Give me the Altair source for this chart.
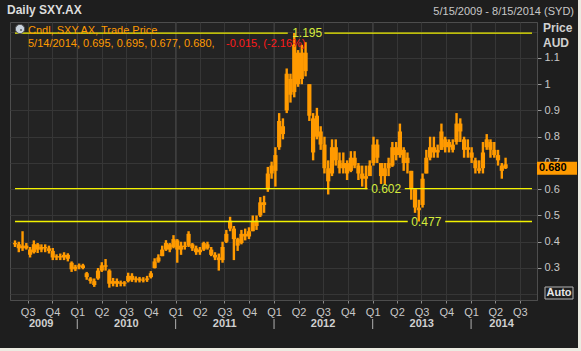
import altair as alt
import pandas as pd

# ---------------- data (bi-weekly candles) ----------------
candle_dates = pd.date_range("2009-05-15", periods=131, freq="14D").strftime("%Y-%m-%d").tolist()

open_ = [
    .395, .39, .375, .385, .37, .36, .39, .37, .38, .375,
    .365, .34, .345, .34, .35, .32, .295, .305, .31, .28,
    .26, .25, .26, .29, .31, .29, .24, .25, .24, .245,
    .25, .27, .255, .26, .252, .255, .265, .3, .325, .345,
    .37, .39, .38, .405, .37, .385, .385, .39, .375, .36,
    .37, .39, .37, .35, .34, .33, .4, .45, .45, .41,
    .395, .43, .42, .44, .48, .5, .55, .6, .66, .67,
    .76, .84, .9, 1.02, .97, 1.12, 1.02, 1.12, 1.0, .87,
    .8, .82, .77, .68, .66, .76, .71, .68, .7, .67,
    .72, .69, .66, .64, .65, .7, .77, .7, .65, .68,
    .69, .76, .73, .75, .7, .67, .6, .53, .54, .66,
    .72, .76, .74, .75, .79, .76, .77, .78, .85, .79,
    .75, .74, .71, .68, .68, .76, .78, .75, .73, .69,
    .695]
close_ = [
    .39, .375, .385, .375, .35, .39, .37, .38, .375, .365,
    .34, .345, .34, .35, .335, .295, .305, .31, .3, .265,
    .25, .235, .29, .31, .305, .24, .25, .24, .245, .24,
    .27, .255, .26, .252, .255, .26, .28, .325, .34, .37,
    .395, .37, .41, .37, .385, .38, .43, .375, .36, .37,
    .395, .375, .35, .34, .33, .38, .43, .48, .41, .385,
    .43, .42, .44, .48, .46, .55, .54, .66, .69, .73,
    .86, .81, 1.04, .96, 1.15, 1.0, 1.12, 1.05, .88, .74,
    .88, .77, .68, .63, .76, .71, .68, .7, .66, .72,
    .69, .66, .64, .65, .69, .77, .72, .65, .68, .7,
    .76, .73, .82, .7, .72, .6, .53, .52, .64, .72,
    .76, .74, .75, .82, .76, .78, .75, .85, .82, .75,
    .76, .72, .68, .67, .74, .79, .75, .73, .71, .67,
    .68]
high_ = [
    .405, .40, .44, .395, .38, .405, .395, .39, .39, .385,
    .376, .352, .355, .36, .356, .325, .312, .317, .316, .285,
    .265, .26, .3, .322, .334, .295, .262, .26, .252, .25,
    .282, .28, .268, .266, .265, .27, .288, .337, .352, .385,
    .406, .395, .425, .41, .4, .4, .44, .395, .385, .38,
    .4, .4, .38, .36, .355, .4, .445, .495, .46, .415,
    .445, .45, .455, .5, .5, .57, .575, .685, .705, .76,
    .89, .87, 1.06, 1.04, 1.195, 1.13, 1.15, 1.16, 1.0, .89,
    .91, .84, .8, .71, .79, .79, .74, .74, .71, .745,
    .745, .7, .69, .69, .71, .8, .79, .7, .7, .72,
    .78, .78, .85, .76, .74, .67, .6, .56, .66, .75,
    .8, .8, .77, .85, .8, .79, .79, .89, .87, .8,
    .79, .76, .72, .71, .78, .81, .79, .78, .75, .7,
    .72]
low_ = [
    .38, .36, .365, .37, .34, .355, .357, .36, .36, .355,
    .33, .33, .33, .33, .325, .285, .288, .295, .295, .255,
    .24, .228, .255, .285, .29, .225, .23, .228, .23, .23,
    .245, .247, .245, .245, .245, .247, .26, .298, .32, .345,
    .365, .36, .375, .32, .35, .37, .38, .365, .35, .35,
    .365, .37, .345, .33, .29, .32, .395, .44, .33, .365,
    .39, .405, .41, .44, .445, .494, .51, .59, .64, .61,
    .75, .79, .89, .93, .95, .99, 1.0, 1.03, .86, .71,
    .79, .75, .66, .58, .65, .69, .66, .66, .635, .665,
    .68, .635, .61, .6, .655, .69, .7, .62, .62, .65,
    .685, .71, .72, .67, .66, .56, .51, .477, .53, .66,
    .71, .72, .72, .75, .74, .74, .74, .77, .78, .72,
    .72, .7, .66, .66, .66, .75, .72, .72, .69, .64,
    .677]

quarter_ticks = [(2009, 7), (2009, 10)] + [(y, m) for y in (2010, 2011, 2012, 2013) for m in (1, 4, 7, 10)] + [(2014, 1), (2014, 4), (2014, 7)]
year_starts = ["2010-01-01", "2011-01-01", "2012-01-01", "2013-01-01", "2014-01-01"]
year_labels = ["2009", "2010", "2011", "2012", "2013", "2014"]
year_label_dates = ["2009-08-20", "2010-07-02", "2011-07-02", "2012-07-01", "2013-07-02", "2014-04-24"]

levels = [1.195, 0.602, 0.477]
level_texts = ["1.195", "0.602", "0.477"]
level_label_dates = ["2012-05-03", "2013-02-20", "2013-07-19"]
gap_starts = ["2012-02-21", "2012-12-13", "2013-05-11"]
gap_ends = ["2012-07-06", "2013-04-30", "2013-09-27"]
domain_start, domain_end = "2009-05-15", "2014-08-15"

y_grid = [0.2, 0.3, 0.4, 0.5, 0.6, 0.7, 0.8, 0.9, 1.0, 1.1, 1.2]
last_close = 0.680

# ---------------- styling ----------------
ORANGE = "#ff9a00"
YELLOW = "#f2f200"
LABEL_YELLOW = "#d6ec3c"
FONT = "Liberation Sans"
TXT = "#c8c8c8"
GRID = "#363636"

df = pd.DataFrame({"date": candle_dates, "open": open_, "high": high_, "low": low_, "close": close_})

xscale = alt.Scale(type="utc",
                   domain=[alt.DateTime(year=2009, month=5, date=15, utc=True),
                           alt.DateTime(year=2014, month=8, date=15, utc=True)])
yscale = alt.Scale(domain=[0.178, 1.237], zero=False, nice=False)

xaxis = alt.Axis(values=[alt.DateTime(year=y, month=m, date=1, utc=True) for y, m in quarter_ticks],
                 labelExpr="'Q' + utcquarter(datum.value)", grid=True, gridColor=GRID,
                 tickSize=3, tickColor="#8a8a8a", domainColor="#4d4d4d", labelColor=TXT,
                 labelFont=FONT, labelFontSize=11, labelPadding=3, labelOverlap=False,
                 labelFlush=False, title=None)
yaxis = alt.Axis(orient="right", values=y_grid,
                 labelExpr="datum.value < 0.25 || datum.value > 1.15 ? '' : format(datum.value, '~g')",
                 tickOpacity={"condition": {"test": "datum.value < 0.25 || datum.value > 1.15", "value": 0}, "value": 1},
                 grid=True, gridColor=GRID, domainColor="#4d4d4d", tickColor="#9a9a9a",
                 tickSize=4, labelPadding=3, labelColor=TXT, labelFont=FONT, labelFontSize=11,
                 labelOverlap=False, title=None)


def X(field):
    return alt.X(field, scale=xscale, axis=xaxis)


def Y(field):
    return alt.Y(field, scale=yscale, axis=yaxis)


one = pd.DataFrame({"k": [0]})


def text_at(t, x, y, color=TXT, size=11, bold=False, align="left"):
    return alt.Chart(one).mark_text(text=t, color=color, font=FONT, fontSize=size,
                                    fontWeight="bold" if bold else "normal",
                                    align=align, baseline="middle").encode(
        x=alt.value(x), y=alt.value(y))


# year separators (slightly brighter vertical lines) and the candles
year_df = pd.DataFrame({"d": year_starts})
year_grid = alt.Chart(year_df).mark_rule(color="#434343", strokeWidth=1).encode(
    x=X("d:T"), y=alt.value(0), y2=alt.value(278))

wicks = alt.Chart(df).mark_rule(color=ORANGE, strokeWidth=2.4).encode(
    x=X("date:T"), y=Y("low:Q"), y2="high:Q")
bodies = alt.Chart(df).mark_bar(color=ORANGE, width=4.2).encode(
    x=X("date:T"), y=Y("open:Q"), y2="close:Q")

# support / resistance lines with a gap for their labels
seg_rows = []
for lv, gs, ge in zip(levels, gap_starts, gap_ends):
    seg_rows.append({"level": lv, "s": domain_start, "e": gs})
    seg_rows.append({"level": lv, "s": ge, "e": domain_end})
seg_df = pd.DataFrame(seg_rows)
level_lines = alt.Chart(seg_df).mark_rule(color=YELLOW, strokeWidth=1.3).encode(
    x=X("s:T"), x2="e:T", y=Y("level:Q"))
lab_df = pd.DataFrame({"level": levels, "t": level_texts, "d": level_label_dates})
level_labels = alt.Chart(lab_df).mark_text(color=LABEL_YELLOW, font=FONT, fontSize=12,
                                           baseline="middle", align="center").encode(
    x=X("d:T"), y=Y("level:Q"), text="t:N")

# year labels under the quarter labels and year separator ticks
yl_df = pd.DataFrame({"d": year_label_dates, "t": year_labels})
year_text = alt.Chart(yl_df).mark_text(color="#d0d0d0", font=FONT, fontSize=11, fontWeight="bold",
                                       baseline="middle", align="center").encode(
    x=X("d:T"), y=alt.value(302), text="t:N")
year_ticks = alt.Chart(year_df).mark_rule(color="#b0b0b0", strokeWidth=1).encode(
    x=X("d:T"), y=alt.value(297), y2=alt.value(307))

# last price marker
mk_df = pd.DataFrame({"v": [last_close], "hi": [last_close + 0.0245], "lo": [last_close - 0.0245],
                      "t": [f"{last_close:.3f}"]})
marker = alt.Chart(mk_df).mark_rect(color=ORANGE).encode(
    x=alt.value(527), x2=alt.value(567), y=Y("hi:Q"), y2="lo:Q")
marker_text = alt.Chart(mk_df).mark_text(color="#000000", font=FONT, fontSize=11, fontWeight="bold",
                                         align="left", baseline="middle").encode(
    x=alt.value(529), y=Y("v:Q"), text="t:N")

# Auto button
auto_box = alt.Chart(one).mark_rect(fillOpacity=0, stroke="#b4b4b4", strokeWidth=1).encode(
    x=alt.value(535), x2=alt.value(563), y=alt.value(265), y2=alt.value(277))
auto_text = text_at("Auto", 549, 271, color="#e8e8e8", bold=True, align="center")

# outer light edges
edge_r = alt.Chart(one).mark_rect(color="#ecebe2").encode(
    x=alt.value(568), x2=alt.value(572), y=alt.value(-22), y2=alt.value(330))
edge_b = alt.Chart(one).mark_rect(color="#ecebe2").encode(
    x=alt.value(-10), x2=alt.value(572), y=alt.value(326), y2=alt.value(330))

# clock icon
clock = alt.Chart(one).mark_point(filled=True, shape="circle", size=85, color="#c9d3de",
                                  stroke="#555", strokeWidth=1, opacity=1).encode(
    x=alt.value(10), y=alt.value(7))
clock_hand = alt.Chart(one).mark_rule(color="#222", strokeWidth=1).encode(
    x=alt.value(10), x2=alt.value(12), y=alt.value(8), y2=alt.value(8))

texts = [
    text_at("Daily SXY.AX", -3, -12, color="#dcdcdc", size=12, bold=True),
    text_at("5/15/2009 - 8/15/2014 (SYD)", 564, -10, color="#c8c8c8", size=11, align="right"),
    text_at("Price", 533, 6, color="#d0d0d0", size=12, bold=True),
    text_at("AUD", 533, 21, color="#d0d0d0", size=12, bold=True),
    text_at("Cndl, SXY.AX, Trade Price", 18, 9, color=ORANGE, size=11),
    text_at("5/14/2014, 0.695, 0.695, 0.677, 0.680, ", 18, 22, color=ORANGE, size=11),
    text_at("-0.015, (-2.16%)", 216, 22, color="#ff1a1a", size=11),
]

chart = alt.layer(
    year_grid, wicks, bodies, level_lines, level_labels, year_text, year_ticks,
    marker, marker_text, auto_box, auto_text, edge_r, edge_b, clock, clock_hand, *texts
).properties(
    width=527, height=278,
    background="#1e1e1e",
    padding={"left": 10, "top": 22, "right": 44, "bottom": 51},
    autosize=alt.AutoSizeParams(type="none"),
).configure_view(fill="#232323", stroke="#4d4d4d", strokeWidth=1)

chart.save("out.html", embed_options={"renderer": "svg", "actions": False})
